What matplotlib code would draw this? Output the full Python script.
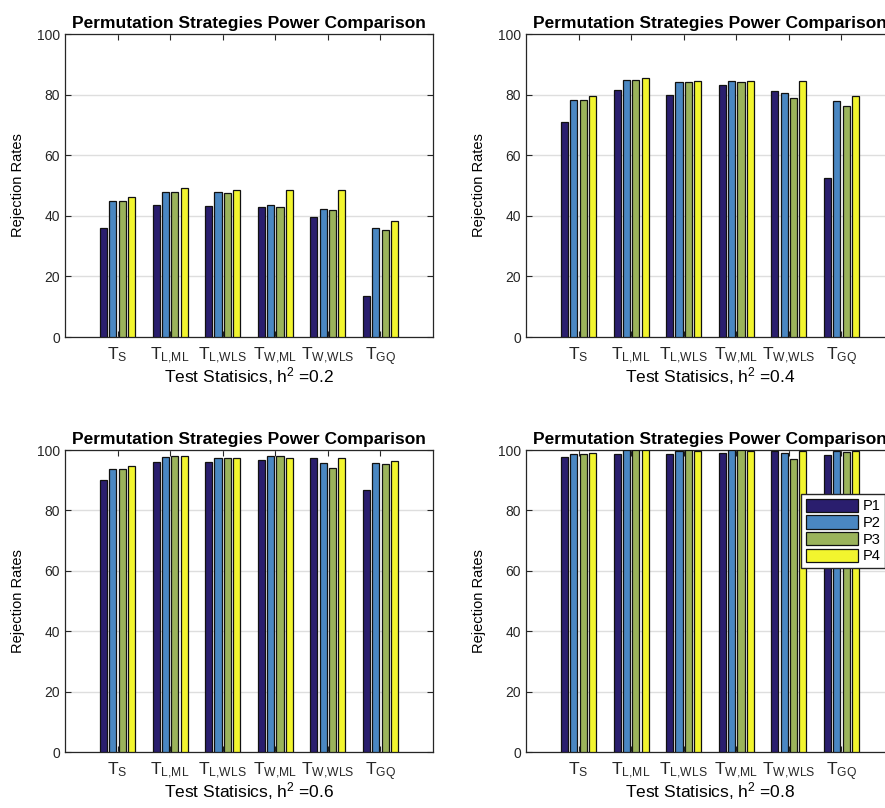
import matplotlib
matplotlib.use('Agg')
import matplotlib.pyplot as plt
import numpy as np

plt.rcParams['font.family'] = ['Liberation Sans', 'DejaVu Sans']
plt.rcParams['mathtext.default'] = 'regular'

# test statistics (x categories)
stat_labels = ['$T_S$', '$T_{L{,}ML}$', '$T_{L{,}WLS}$', '$T_{W{,}ML}$', '$T_{W{,}WLS}$', '$T_{GQ}$']
strategies = ['P1', 'P2', 'P3', 'P4']
h2_values = ['0.2', '0.4', '0.6', '0.8']

# rejection rates, rows = statistic, columns = P1..P4
rates_02 = [[36.0, 44.8, 44.8, 46.1],
            [43.4, 48.0, 47.8, 49.1],
            [43.1, 47.7, 47.4, 48.6],
            [43.0, 43.7, 43.0, 48.6],
            [39.6, 42.1, 41.8, 48.6],
            [13.4, 36.0, 35.2, 38.2]]
rates_04 = [[70.8, 78.2, 78.1, 79.6],
            [81.6, 84.9, 84.9, 85.4],
            [80.0, 84.2, 84.2, 84.6],
            [83.3, 84.6, 84.1, 84.6],
            [81.2, 80.5, 78.9, 84.6],
            [52.4, 77.9, 76.4, 79.6]]
rates_06 = [[90.1, 93.7, 93.7, 94.7],
            [95.9, 97.8, 98.0, 98.0],
            [95.9, 97.4, 97.4, 97.4],
            [96.6, 98.0, 98.0, 97.4],
            [97.3, 95.7, 94.0, 97.4],
            [86.8, 95.8, 95.5, 96.4]]
rates_08 = [[97.6, 98.8, 98.8, 99.1],
            [98.7, 99.9, 99.9, 99.9],
            [98.6, 99.6, 99.9, 99.6],
            [98.9, 100.0, 100.0, 99.7],
            [99.7, 98.9, 97.1, 99.6],
            [98.2, 99.6, 99.3, 99.8]]

colors = ['#2a1e6e', '#4a87c2', '#9bb35b', '#f2f52e']

W, H = 885, 808
fig = plt.figure(figsize=(W / 100, H / 100), dpi=100)

def px_axes(x0, y0, x1, y1):
    return fig.add_axes([x0 / W, (H - y1) / H, (x1 - x0) / W, (y1 - y0) / H])

positions = [(65, 34, 433, 337), (526, 34, 894, 337),
             (65, 450, 433, 752), (526, 450, 894, 752)]
all_rates = [rates_02, rates_04, rates_06, rates_08]

x = np.arange(1, len(stat_labels) + 1)
step = 0.178
bw = 0.135

for k in range(4):
    ax = px_axes(*positions[k])
    data = np.array(all_rates[k])
    for j in range(len(strategies)):
        ax.bar(x + (j - 1.5) * step, data[:, j], width=bw, color=colors[j],
               edgecolor='#111111', linewidth=0.9, label=strategies[j], zorder=3)
    ax.set_xlim(0, 7)
    ax.set_ylim(0, 100)
    ax.set_yticks(np.arange(0, 101, 20))
    ax.set_xticks(x)
    ax.set_xticklabels(stat_labels, fontsize=12.5)
    ax.tick_params(axis='both', direction='in', top=True, right=True,
                   length=4, width=0.8, colors='#262626', labelsize=10)
    ax.tick_params(axis='x', pad=6, labelsize=12.5)
    ax.grid(axis='y', color='#dedede', linewidth=1.0, zorder=0)
    for s in ax.spines.values():
        s.set_color('#262626')
        s.set_linewidth(0.9)
    if k % 2 == 1:
        # right column runs off the edge of the page
        ax.spines['right'].set_visible(False)
        ax.tick_params(axis='y', right=False)
    ax.set_title('Permutation Strategies Power Comparison', fontsize=12.5,
                 fontweight='bold', pad=4)
    ax.set_ylabel('Rejection Rates', fontsize=10.5, labelpad=9)
    ax.set_xlabel('Test Statisics, $h^2$ =' + h2_values[k], fontsize=12.5, labelpad=-2)
    if k == 3:
        ax.legend(loc='upper right', bbox_to_anchor=(0.975, 0.853), fontsize=10.5,
                  fancybox=False, edgecolor='#262626', framealpha=1,
                  handlelength=3.6, handleheight=1.0, labelspacing=0.15,
                  borderpad=0.3, handletextpad=0.3, borderaxespad=0)

plt.savefig('out.png', dpi=100)
